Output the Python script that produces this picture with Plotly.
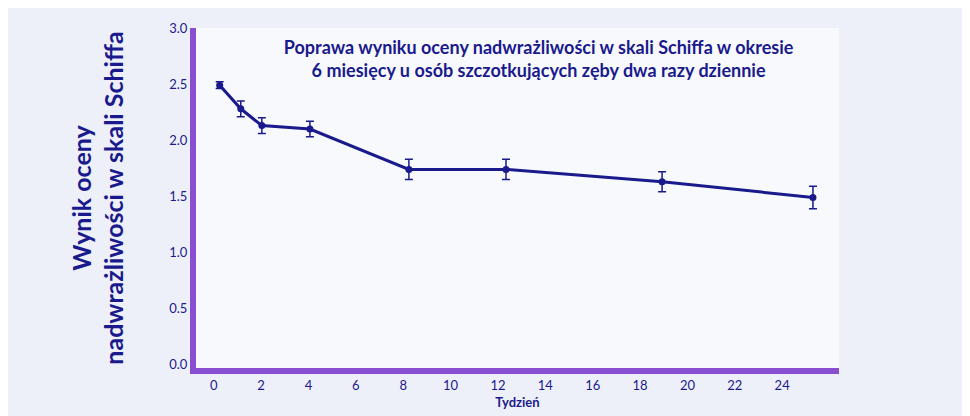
import plotly.graph_objects as go

weeks = [0.25, 1.14, 2.03, 4.06, 8.24, 12.34, 18.93, 25.3]
score = [2.49, 2.28, 2.13, 2.10, 1.74, 1.74, 1.63, 1.49]
err = [0.03, 0.07, 0.07, 0.07, 0.09, 0.09, 0.09, 0.10]

navy = "#1a1a8c"
purple = "#8a4fd0"

fig = go.Figure()
fig.add_trace(go.Scatter(
    x=weeks, y=score, mode="lines+markers",
    line=dict(color=navy, width=3),
    marker=dict(color=navy, size=7),
    error_y=dict(type="data", array=err, color=navy, thickness=1.5, width=4),
    showlegend=False,
))

fig.update_layout(
    width=970, height=416,
    margin=dict(l=188, r=139, t=18, b=56),
    paper_bgcolor="#eef0f9",
    plot_bgcolor="rgba(255,255,255,0.6)",
    font=dict(family="Lato, Open Sans, sans-serif", color=navy),
    title=dict(
        text="<b>Poprawa wyniku oceny nadwrażliwości w skali Schiffa w okresie<br>6 miesięcy u osób szczotkujących zęby dwa razy dziennie</b>",
        x=0.547, xanchor="center", y=0.89, yanchor="middle",
        font=dict(size=18, color=navy),
    ),
    xaxis=dict(
        range=[-0.75, 26.4], tickvals=list(range(0, 25, 2)),
        showgrid=False, zeroline=False,
        showline=True, linecolor=purple, linewidth=6,
        tickfont=dict(size=13, color=navy),
        title=dict(text="<b>Tydzień</b>", font=dict(size=13, color=navy), standoff=8),
    ),
    yaxis=dict(
        range=[-0.03, 3.0], tickvals=[0, 0.5, 1, 1.5, 2, 2.5, 3],
        tickformat=".1f",
        showgrid=False, zeroline=False,
        showline=True, linecolor=purple, linewidth=6,
        tickfont=dict(size=13, color=navy),
        title=dict(text="<b>Wynik oceny<br>nadwrażliwości w skali Schiffa</b>",
                   font=dict(size=25, color=navy), standoff=40),
    ),
)

fig.write_html("out.html")
